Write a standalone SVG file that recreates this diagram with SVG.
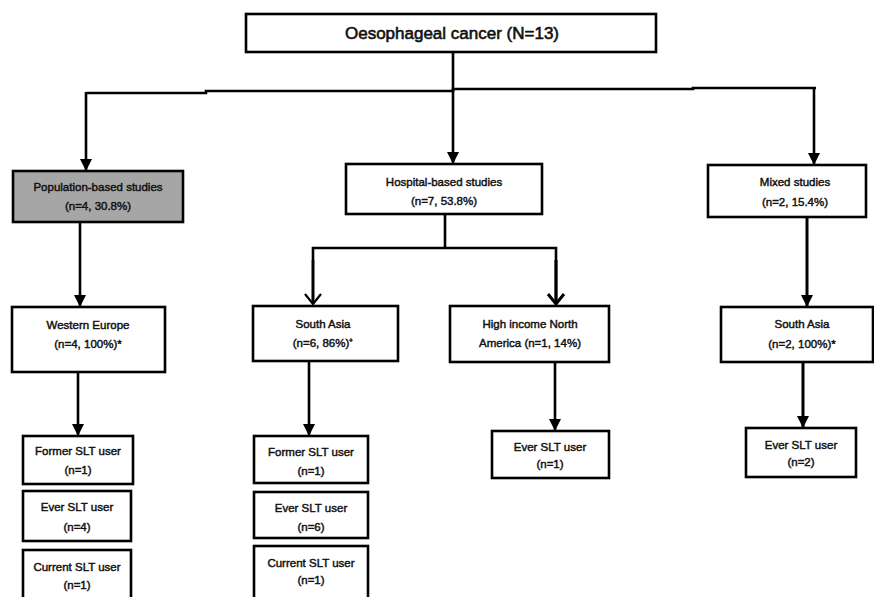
<svg xmlns="http://www.w3.org/2000/svg" width="874" height="597" viewBox="0 0 874 597">
<defs>
<style>
.box{fill:#fff;stroke:#000;stroke-width:2.6}
.grey{fill:#a6a6a6}
.t{font-family:"Liberation Sans",Arial,sans-serif;font-size:11.5px;fill:#111;stroke:#111;stroke-width:0.45;text-anchor:middle}
.title{font-size:17px;stroke-width:0.6}
.ln{fill:none;stroke:#000;stroke-width:2.6}
</style>
<marker id="tri" markerUnits="userSpaceOnUse" markerWidth="12" markerHeight="12" viewBox="0 0 10 10" refX="10" refY="5" orient="auto">
<path d="M0,0 L10,5 L0,10 z" fill="#000"/>
</marker>
<marker id="chev" markerUnits="userSpaceOnUse" markerWidth="14" markerHeight="20" viewBox="-2 -2 14 20" refX="10" refY="8" orient="auto">
<path d="M0,0 L10,8 L0,16" fill="none" stroke="#000" stroke-width="2.2"/>
</marker>
<marker id="chev2" markerUnits="userSpaceOnUse" markerWidth="14" markerHeight="20" viewBox="-2 -2 14 20" refX="10" refY="8" orient="auto">
<path d="M0,0 L10,8 L0,16" fill="none" stroke="#000" stroke-width="3"/>
</marker>
</defs>

<g id="connectors">
<line class="ln" x1="453" y1="52" x2="453" y2="90"/>
<polyline class="ln" points="86,93 206,93 206,91 453,91 453,89 693,89 693,88 816,88"/>
<line class="ln" x1="86" y1="92" x2="86" y2="171" marker-end="url(#tri)"/>
<line class="ln" x1="453" y1="90" x2="453" y2="164" marker-end="url(#tri)"/>
<line class="ln" x1="814" y1="88" x2="814" y2="165" marker-end="url(#tri)"/>
<line class="ln" x1="80" y1="222" x2="80" y2="307" marker-end="url(#tri)"/>
<polyline class="ln" points="445,214 445,248"/>
<polyline class="ln" points="313,303 313,248 556,248 556,303"/>
<line class="ln" x1="313" y1="260" x2="313" y2="304" marker-end="url(#chev)"/>
<line class="ln" x1="556" y1="260" x2="556" y2="304" style="stroke-width:3" marker-end="url(#chev2)"/>
<line class="ln" x1="807" y1="217" x2="807" y2="307" style="stroke-width:3" marker-end="url(#tri)"/>
<line class="ln" x1="78" y1="372" x2="78" y2="436" marker-end="url(#tri)"/>
<line class="ln" x1="309" y1="361" x2="309" y2="436" marker-end="url(#tri)"/>
<line class="ln" x1="555" y1="362" x2="555" y2="431" marker-end="url(#tri)"/>
<line class="ln" x1="803" y1="362" x2="803" y2="428" style="stroke-width:3" marker-end="url(#tri)"/>
</g>

<g id="n-top"><rect class="box" x="246" y="14" width="410" height="38"/><text class="t title" x="452" y="39">Oesophageal cancer (N=13)</text></g>

<g id="n-pop"><rect class="box grey" x="13" y="171" width="170" height="51"/><text class="t" x="98" y="191">Population-based studies</text><text class="t" x="98" y="210">(n=4, 30.8%)</text></g>
<g id="n-hosp"><rect class="box" x="346" y="164" width="196" height="50"/><text class="t" x="444" y="186">Hospital-based studies</text><text class="t" x="444" y="205">(n=7, 53.8%)</text></g>
<g id="n-mixed"><rect class="box" x="708" y="165" width="158" height="52"/><text class="t" x="795" y="186">Mixed studies</text><text class="t" x="795" y="206">(n=2, 15.4%)</text></g>

<g id="n-we"><rect class="box" x="12" y="307" width="153" height="65"/><text class="t" x="88" y="329">Western Europe</text><text class="t" x="88" y="348">(n=4, 100%)*</text></g>
<g id="n-sa1"><rect class="box" x="253" y="306" width="145" height="55"/><text class="t" x="323" y="328">South Asia</text><text class="t" x="323" y="347">(n=6, 86%)⁺</text></g>
<g id="n-hi"><rect class="box" x="450" y="306" width="159" height="56"/><text class="t" x="530" y="328">High income North</text><text class="t" x="530" y="347">America (n=1, 14%)</text></g>
<g id="n-sa2"><rect class="box" x="721" y="307" width="152" height="55"/><text class="t" x="802" y="328">South Asia</text><text class="t" x="802" y="348">(n=2, 100%)*</text></g>

<g id="n-f1"><rect class="box" x="23" y="436" width="110" height="48"/><text class="t" x="78" y="455">Former SLT user</text><text class="t" x="78" y="474">(n=1)</text></g>
<g id="n-e1"><rect class="box" x="23" y="491" width="108" height="50"/><text class="t" x="77" y="511">Ever SLT user</text><text class="t" x="77" y="531">(n=4)</text></g>
<g id="n-c1"><rect class="box" x="23" y="550" width="108" height="52"/><text class="t" x="77" y="571">Current SLT user</text><text class="t" x="77" y="589">(n=1)</text></g>

<g id="n-f2"><rect class="box" x="254" y="436" width="114" height="47"/><text class="t" x="311" y="456">Former SLT user</text><text class="t" x="311" y="475">(n=1)</text></g>
<g id="n-e2"><rect class="box" x="254" y="492" width="114" height="46"/><text class="t" x="311" y="512">Ever SLT user</text><text class="t" x="311" y="531">(n=6)</text></g>
<g id="n-c2"><rect class="box" x="254" y="546" width="114" height="56"/><text class="t" x="311" y="567">Current SLT user</text><text class="t" x="311" y="584">(n=1)</text></g>

<g id="n-e3"><rect class="box" x="492" y="431" width="117" height="47"/><text class="t" x="550" y="451">Ever SLT user</text><text class="t" x="550" y="468">(n=1)</text></g>
<g id="n-e4"><rect class="box" x="746" y="428" width="110" height="49"/><text class="t" x="801" y="449">Ever SLT user</text><text class="t" x="801" y="466">(n=2)</text></g>
</svg>
